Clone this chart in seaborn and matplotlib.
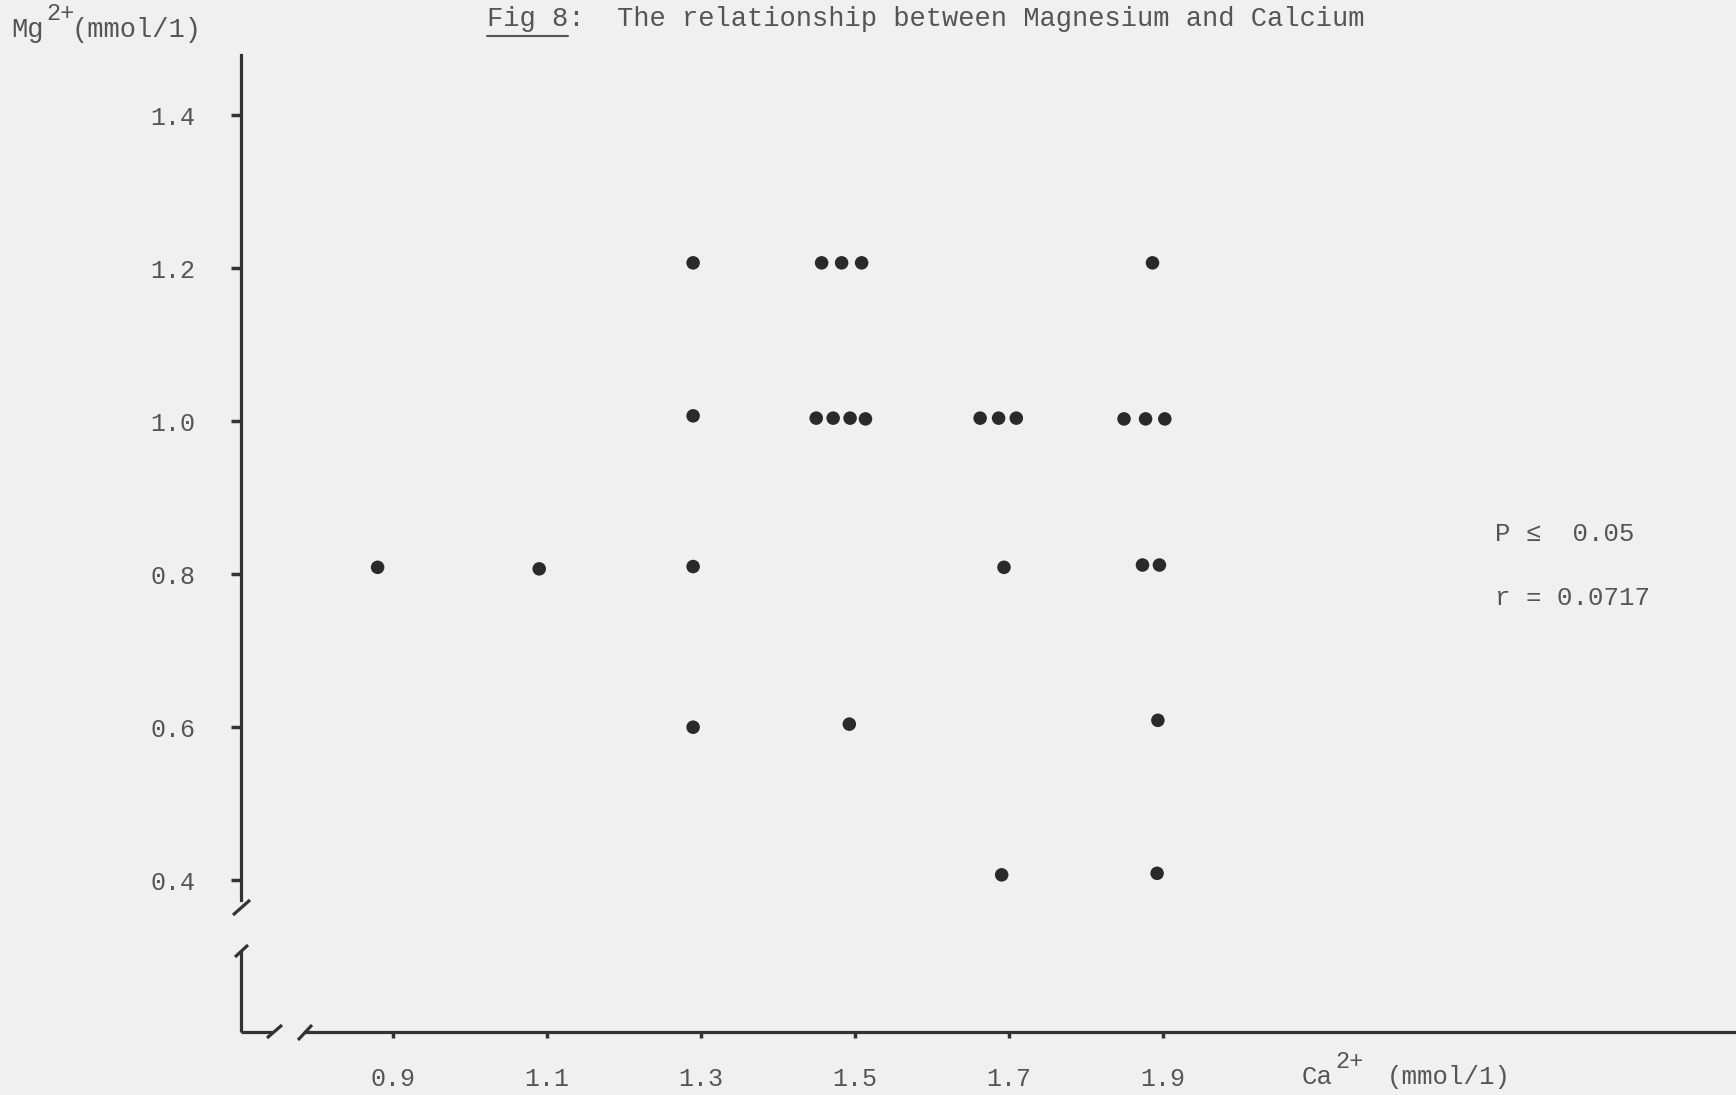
import matplotlib
matplotlib.use("Agg")
import matplotlib.pyplot as plt
from matplotlib.lines import Line2D
import seaborn as sns
import pandas as pd

# ---- data ----
ca = [0.88, 1.09,
      1.29, 1.29, 1.29, 1.29,
      1.457, 1.483, 1.509, 1.450, 1.472, 1.494, 1.514, 1.493,
      1.663, 1.687, 1.710, 1.694, 1.691,
      1.887, 1.850, 1.878, 1.903, 1.874, 1.896, 1.894, 1.893]
mg = [0.809, 0.807,
      1.207, 1.007, 0.810, 0.600,
      1.207, 1.207, 1.207, 1.004, 1.004, 1.004, 1.003, 0.604,
      1.004, 1.004, 1.004, 0.809, 0.407,
      1.207, 1.003, 1.003, 1.003, 0.812, 0.812, 0.609, 0.409]
x_ticks = [0.9, 1.1, 1.3, 1.5, 1.7, 1.9]
y_ticks = [0.4, 0.6, 0.8, 1.0, 1.2, 1.4]
x_tick_labels = ["0.9", "1.1", "1.3", "1.5", "1.7", "1.9"]
y_tick_labels = ["0.4", "0.6", "0.8", "1.0", "1.2", "1.4"]
title_prefix = "Fig 8"
title_rest = ":  The relationship between Magnesium and Calcium"
stats_lines = ["P \u2264  0.05", "r = 0.0717"]

df = pd.DataFrame({"Ca": ca, "Mg": mg})

W, H = 1736, 1095
BG = "#f0f0f0"
INK = "#333333"
TXT = "#555555"
FONT = ["Liberation Mono", "DejaVu Sans Mono"]

sns.set_style("white", {"axes.facecolor": BG, "figure.facecolor": BG})
plt.rcParams["font.family"] = FONT

fig = plt.figure(figsize=(W / 100, H / 100), dpi=100)
fig.patch.set_facecolor(BG)

def fx(px):
    return px / W

def fy(py):
    return 1 - py / H

ax_left, ax_top, ax_bottom = 241, 55, 1032
ax = fig.add_axes([fx(ax_left), fy(ax_bottom), 1 - fx(ax_left), fy(ax_top) - fy(ax_bottom)])
ax.set_facecolor(BG)

sns.scatterplot(data=df, x="Ca", y="Mg", ax=ax, s=95, color="#2a2a2a",
                edgecolor="none", legend=False, zorder=3)

# scale: pixel <-> data
xpx_per = 769.5
ypx_per = 765.0
x0_px, y0_px = 393.0, 880.2  # px of 0.9 and 0.4
ax.set_xlim(0.9 - (x0_px - ax_left) / xpx_per, 0.9 + (W - x0_px) / xpx_per)
ax.set_ylim(0.4 - (ax_bottom - y0_px) / ypx_per, 0.4 + (y0_px - ax_top) / ypx_per)

for s in ["top", "right"]:
    ax.spines[s].set_visible(False)
for s in ["left", "bottom"]:
    ax.spines[s].set_color(INK)
    ax.spines[s].set_linewidth(2.3)
ax.spines["left"].set_bounds(0.4 - (900 - y0_px) / ypx_per, ax.get_ylim()[1])
ax.spines["bottom"].set_bounds(0.9 - (x0_px - 305) / xpx_per, ax.get_xlim()[1])

ax.set_xticks(x_ticks)
ax.set_xticklabels(x_tick_labels)
ax.set_yticks(y_ticks)
ax.set_yticklabels(y_tick_labels)
ax.tick_params(axis="both", direction="out", color=INK, width=2.5,
               labelsize=18, labelcolor=TXT, bottom=True, left=True)
ax.tick_params(axis="x", pad=21, length=4)
ax.tick_params(axis="y", pad=26, length=7)
ax.set_xlabel("")
ax.set_ylabel("")
for lab in ax.get_xticklabels() + ax.get_yticklabels():
    lab.set_family(FONT)

# axis break decorations
segs = [
    [(241, 950), (241, 1032)],
    [(241, 1032), (272, 1032)],
    [(233, 915), (250, 900)],
    [(235, 957), (248, 945)],
    [(267, 1038), (282, 1025)],
    [(298, 1040), (312, 1025)],
]
for (xa, ya), (xb, yb) in segs:
    fig.add_artist(Line2D([fx(xa), fx(xb)], [fy(ya), fy(yb)], color=INK,
                          lw=2.3, solid_capstyle="butt"))

# title
fig.text(fx(487), fy(19), title_prefix + title_rest, fontsize=19.5, color=TXT,
         family=FONT, ha="left", va="center")
fig.add_artist(Line2D([fx(487), fx(568)], [fy(36), fy(36)], color=TXT, lw=1.5))

# y axis label
fig.text(fx(11), fy(30), "Mg", fontsize=19.5, color=TXT, family=FONT, ha="left", va="center")
fig.text(fx(46), fy(13), "2+", fontsize=17, color=TXT, family=FONT, ha="left", va="center")
fig.text(fx(72), fy(30), "(mmol/1)", fontsize=19.5, color=TXT, family=FONT, ha="left", va="center")

# x axis label
fig.text(fx(1302), fy(1077), "Ca", fontsize=18.5, color=TXT, family=FONT, ha="left", va="center")
fig.text(fx(1335), fy(1061), "2+", fontsize=17, color=TXT, family=FONT, ha="left", va="center")
fig.text(fx(1387), fy(1077), "(mmol/1)", fontsize=18.5, color=TXT, family=FONT, ha="left", va="center")

# stats
fig.text(fx(1495), fy(534), stats_lines[0], fontsize=18.5, color=TXT, family=FONT, ha="left", va="center")
fig.text(fx(1495), fy(598), stats_lines[1], fontsize=18.5, color=TXT, family=FONT, ha="left", va="center")

fig.savefig("out.png", dpi=100, facecolor=BG)
